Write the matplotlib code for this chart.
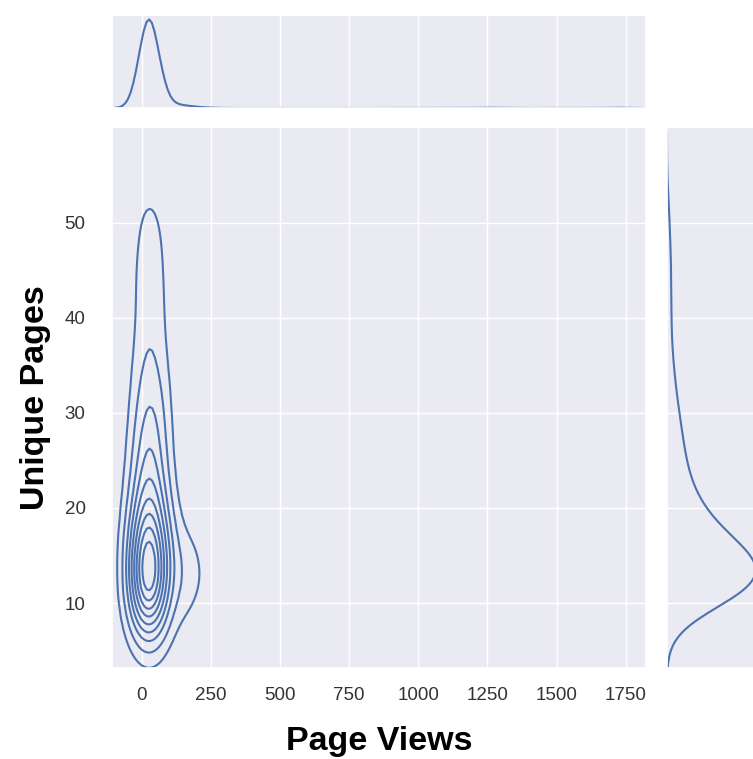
# plot_joint_kde.py: Page Views と Unique Pages の同時分布 (KDE) を描く
import matplotlib
matplotlib.use("Agg")
import matplotlib.pyplot as plt
import numpy as np
import pandas as pd
import seaborn as sns

# 画像から読み取った度数表 (1行 = unique pages の値ごと)
page_views = [
    15, 35,
    0, 10, 23, 38, 62,
    0, 10, 23, 38, 62, 120,
    0, 10, 23, 38, 62, 130, 160,
    0, 10, 23, 38, 62, 140, 200, 240,
    0, 10, 23, 38, 62, 110, 180,
    0, 10, 23, 38, 62, 100,
    2, 12, 24, 40, 62, 90, 150,
    2, 12, 24, 40, 62,
    5, 14, 26, 42, 62,
    5, 14, 26, 42, 62,
    8, 16, 28, 44, 68,
    8, 18, 28, 44, 72,
    10, 18, 30, 46,
    10, 20, 30, 48,
    12, 20, 32, 48,
    12, 22, 34, 48,
    14, 26, 38,
    16, 28, 42,
    16, 28, 42,
    20, 30, 46,
    15, 35, 20, 30, 40, 25, 35, 45, 20, 30, 45, 30, 15, 30, 50,
    25, 40, 20, 40, 30,
    25, 40, 30, 30, 35, 25, 30, 30, 30, 35, 30, 30, 30, 30,
    1250, 1715,
]
unique_pages = [
    9, 9,
    10, 10, 10, 10, 10,
    11, 11, 11, 11, 11, 11,
    12, 12, 12, 12, 12, 12, 12,
    13, 13, 13, 13, 13, 13, 13, 13,
    14, 14, 14, 14, 14, 14, 14,
    15, 15, 15, 15, 15, 15,
    16, 16, 16, 16, 16, 16, 16,
    17, 17, 17, 17, 17,
    18, 18, 18, 18, 18,
    19, 19, 19, 19, 19,
    20, 20, 20, 20, 20,
    21, 21, 21, 21, 21,
    22, 22, 22, 22,
    23, 23, 23, 23,
    24, 24, 24, 24,
    25, 25, 25, 25,
    26, 26, 26,
    27, 27, 27,
    28, 28, 28,
    29, 29, 29,
    30, 30, 31, 31, 31, 32, 32, 32, 33, 33, 33, 34, 35, 35, 35,
    36, 37, 38, 38, 39,
    40, 40, 41, 42, 43, 44, 45, 46, 47, 48, 49, 50, 51, 52,
    15, 14,
]
counts = [
    3, 2,
    3, 7, 7, 6, 2,
    3, 8, 9, 8, 3, 1,
    3, 9, 10, 9, 4, 2, 2,
    3, 9, 10, 9, 4, 2, 1, 1,
    3, 8, 9, 8, 4, 2, 2,
    2, 7, 8, 7, 4, 2,
    2, 6, 7, 6, 3, 1, 1,
    2, 5, 6, 5, 3,
    2, 4, 5, 4, 2,
    1, 4, 4, 3, 2,
    1, 3, 4, 3, 1,
    1, 3, 3, 2, 1,
    1, 3, 3, 2,
    1, 2, 3, 2,
    1, 2, 2, 2,
    1, 2, 2, 1,
    1, 3, 2,
    1, 3, 2,
    1, 3, 1,
    1, 2, 2,
    1, 3, 1, 1, 2, 1, 1, 1, 1, 1, 1, 2, 1, 1, 1,
    2, 1, 1, 1, 1,
    1, 1, 1, 2, 1, 2, 1, 2, 1, 1, 1, 1, 1, 1,
    1, 1,
]

x_ticks = [0, 250, 500, 750, 1000, 1250, 1500, 1750]
y_ticks = [10, 20, 30, 40, 50]

# 度数表から標本を作る
df = pd.DataFrame({
    "Page Views": np.repeat(page_views, counts),
    "Unique Pages": np.repeat(unique_pages, counts),
})

sns.set_theme(style="darkgrid")
plt.rcParams["font.family"] = ["Liberation Sans", "DejaVu Sans"]
blue = "#4C72B0"

W, H = 753, 759
fig = plt.figure(figsize=(W / 100, H / 100), dpi=100)
ax = fig.add_axes([112 / W, 1 - 668 / H, 534 / W, 541 / H])
ax_top = fig.add_axes([112 / W, 1 - 108 / H, 534 / W, 93 / H], sharex=ax)
ax_right = fig.add_axes([667 / W, 1 - 668 / H, 93 / W, 541 / H], sharey=ax)

# 同時分布の等高線と周辺分布
sns.kdeplot(data=df, x="Page Views", y="Unique Pages", ax=ax, color=blue)
sns.kdeplot(data=df, x="Page Views", ax=ax_top, color=blue)
sns.kdeplot(data=df, y="Unique Pages", ax=ax_right, color=blue)

ax.set_xlim(-107, 1823)
ax.set_ylim(3.16, 60.1)
ax.set_xticks(x_ticks)
ax.set_yticks(y_ticks)
ax.tick_params(axis="x", pad=8, labelsize=13.5, labelcolor="#333333")
ax.tick_params(axis="y", pad=13, labelsize=13.5, labelcolor="#333333")

ax.set_xlabel("Page Views", fontsize=24.5, fontweight="bold", color="black")
ax.set_ylabel("Unique Pages", fontsize=24.5, fontweight="bold", color="black")
ax.xaxis.set_label_coords(0.5, -0.108)
ax.yaxis.set_label_coords(-0.115, 0.5)

# 周辺分布の軸は目盛りを隠す
ax_top.yaxis.grid(False)
ax_right.xaxis.grid(False)
ax_top.tick_params(labelbottom=False, labelleft=False)
ax_right.tick_params(labelbottom=False, labelleft=False)
ax_top.set_xlabel("")
ax_top.set_ylabel("")
ax_right.set_xlabel("")
ax_right.set_ylabel("")

fig.savefig("out.png", dpi=100)
